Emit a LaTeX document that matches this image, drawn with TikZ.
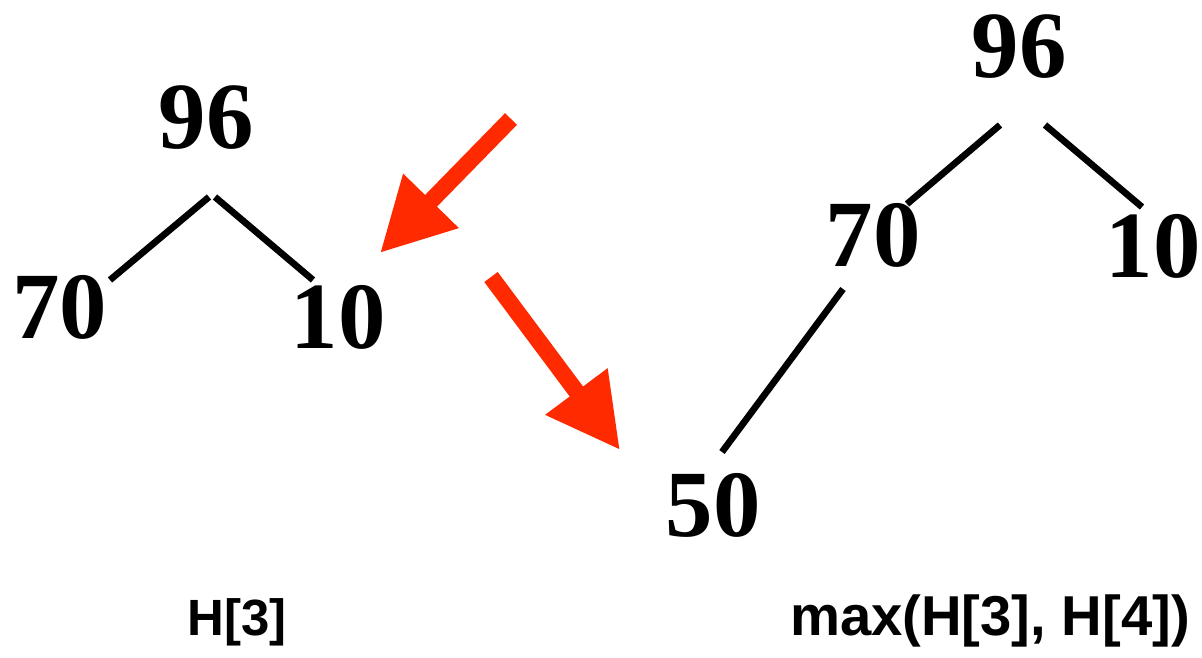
\documentclass[tikz,border=0pt]{standalone}
\usepackage{fontspec}
\setmainfont{Liberation Serif}
\newfontfamily\labelfont{Liberation Sans}
\usetikzlibrary{arrows.meta}
\definecolor{arrowred}{RGB}{255,42,0}
\tikzset{
  num/.style={inner sep=0pt, font=\fontsize{54}{60}\selectfont\bfseries},
  lab/.style={inner sep=0pt, anchor=base, font=\labelfont\fontsize{29}{34}\selectfont\bfseries},
  edge/.style={line width=3.8pt},
  bigarrow/.style={draw=arrowred, fill=arrowred, line width=9.5pt, -{Triangle[length=1.46cm,width=1.46cm]}}
}
\begin{document}
\begin{tikzpicture}[x=0.02cm, y=-0.02cm]
\useasboundingbox (0,0) rectangle (1202,658);
% left tree
\node[num] (l96) at (206,118) {96};
\node[num] (l70) at (60,307) {70};
\node[num] (l10) at (338,317) {10};
\coordinate (l96a) at (209,197);
\coordinate (l70a) at (110,280);
\coordinate (l96b) at (215,197);
\coordinate (l10a) at (313,280);
\draw[edge] (l96a) -- (l70a);
\draw[edge] (l96b) -- (l10a);
% right tree
\node[num] (r96) at (1019,47) {96};
\node[num] (r70) at (873,235) {70};
\node[num] (r10) at (1153,246) {10};
\node[num] (r50) at (713,505) {50};
\coordinate (r96a) at (1000,125);
\coordinate (r70a) at (907,204);
\coordinate (r96b) at (1045,125);
\coordinate (r10a) at (1142,207);
\coordinate (r70b) at (843,289);
\coordinate (r50a) at (722,452);
\draw[edge] (r96a) -- (r70a);
\draw[edge] (r96b) -- (r10a);
\draw[edge] (r70b) -- (r50a);
% red arrows
\coordinate (a1s) at (511,119);
\coordinate (a1e) at (380,253);
\coordinate (a2s) at (491,277);
\coordinate (a2e) at (620,450);
\draw[bigarrow] (a1s) -- (a1e);
\draw[bigarrow] (a2s) -- (a2e);
% labels
\node[lab] (h3) at (237,635) {H[3]};
\node[lab, font=\labelfont\fontsize{32}{36}\selectfont\bfseries] (mx) at (990,635) {max(H[3], H[4])};
\end{tikzpicture}
\end{document}
